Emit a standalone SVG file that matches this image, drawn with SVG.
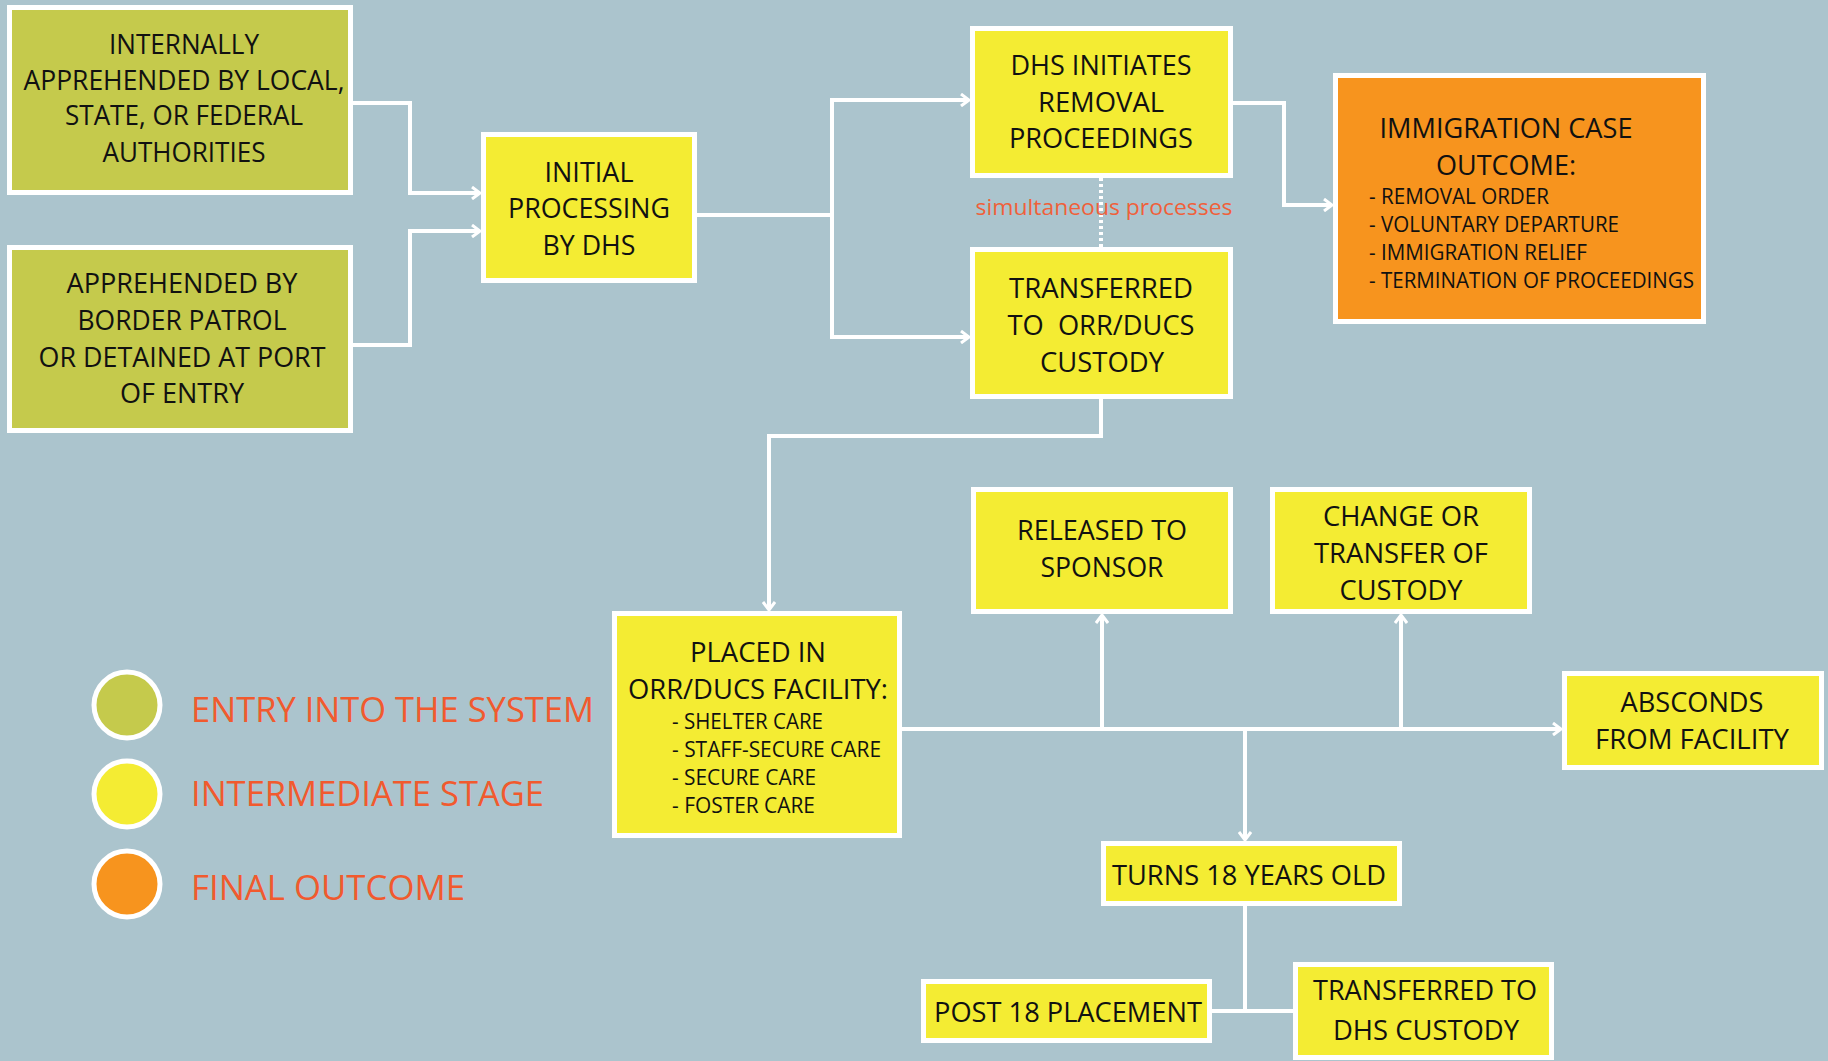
<svg xmlns="http://www.w3.org/2000/svg" width="1828" height="1061" viewBox="0 0 1828 1061">
<style>
.bg{fill:#ABC4CD}
.box{stroke:#FFFFFF;stroke-width:5}
.entry{fill:#C5CA4C}
.mid{fill:#F4EC33}
.final{fill:#F7941E}
.t{font-family:"Open Sans","Liberation Sans",sans-serif;font-size:28px;fill:#111111;text-anchor:middle}
.l{font-family:"Open Sans","Liberation Sans",sans-serif;font-size:21px;fill:#111111}
.leg{font-family:"Open Sans","Liberation Sans",sans-serif;font-size:35px;fill:#F15A2E}
.sim{font-family:"Open Sans","Liberation Sans",sans-serif;font-size:22px;fill:#F0603A;text-anchor:middle}
.c{fill:none;stroke:#FFFFFF;stroke-width:4}
</style>
<defs>
<marker id="arr" viewBox="0 0 12 14" markerWidth="12" markerHeight="14" refX="10" refY="7" orient="auto" markerUnits="userSpaceOnUse">
<path d="M2,1 L10,7 L2,13" fill="none" stroke="#FFFFFF" stroke-width="3"/>
</marker>
</defs>
<rect class="bg" x="0" y="0" width="1828" height="1061"/>

<g id="connectors">
<path class="c" d="M352,103 H410 V193 H480" marker-end="url(#arr)"/>
<path class="c" d="M352,345 H410 V231 H480" marker-end="url(#arr)"/>
<path class="c" d="M695,215 H832 V100 H969" marker-end="url(#arr)"/>
<path class="c" d="M832,215 V337 H969" marker-end="url(#arr)"/>
<path class="c" d="M1233,103 H1284 V205 H1332" marker-end="url(#arr)"/>
<path class="c" d="M1101,178 V247" stroke-dasharray="3,3"/>
<path class="c" d="M1101,399 V436 H769 V610" marker-end="url(#arr)"/>
<path class="c" d="M902,729 H1561" marker-end="url(#arr)"/>
<path class="c" d="M1102,729 V615" marker-end="url(#arr)"/>
<path class="c" d="M1401,729 V615" marker-end="url(#arr)"/>
<path class="c" d="M1245,729 V840" marker-end="url(#arr)"/>
<path class="c" d="M1245,906 V1011"/>
<path class="c" d="M1212,1011 H1293"/>
</g>

<g id="node-internal">
<rect class="box entry" x="9.5" y="7.5" width="341" height="185"/>
<text class="t" x="184" y="54" textLength="150" lengthAdjust="spacingAndGlyphs">INTERNALLY</text>
<text class="t" x="184" y="90" textLength="321" lengthAdjust="spacingAndGlyphs">APPREHENDED BY LOCAL,</text>
<text class="t" x="184" y="125" textLength="238" lengthAdjust="spacingAndGlyphs">STATE, OR FEDERAL</text>
<text class="t" x="184" y="162" textLength="163" lengthAdjust="spacingAndGlyphs">AUTHORITIES</text>
</g>

<g id="node-border">
<rect class="box entry" x="9.5" y="247.5" width="341" height="183"/>
<text class="t" x="182" y="293" textLength="231" lengthAdjust="spacingAndGlyphs">APPREHENDED BY</text>
<text class="t" x="182" y="330" textLength="209" lengthAdjust="spacingAndGlyphs">BORDER PATROL</text>
<text class="t" x="182" y="367" textLength="287" lengthAdjust="spacingAndGlyphs">OR DETAINED AT PORT</text>
<text class="t" x="182" y="403" textLength="124" lengthAdjust="spacingAndGlyphs">OF ENTRY</text>
</g>

<g id="node-initial">
<rect class="box mid" x="483.5" y="134.5" width="211" height="146"/>
<text class="t" x="589" y="182" textLength="89" lengthAdjust="spacingAndGlyphs">INITIAL</text>
<text class="t" x="589" y="218" textLength="162" lengthAdjust="spacingAndGlyphs">PROCESSING</text>
<text class="t" x="589" y="255" textLength="93" lengthAdjust="spacingAndGlyphs">BY DHS</text>
</g>

<g id="node-dhs">
<rect class="box mid" x="972.5" y="28.5" width="258" height="147"/>
<text class="t" x="1101" y="75" textLength="181" lengthAdjust="spacingAndGlyphs">DHS INITIATES</text>
<text class="t" x="1101" y="112" textLength="126" lengthAdjust="spacingAndGlyphs">REMOVAL</text>
<text class="t" x="1101" y="148" textLength="184" lengthAdjust="spacingAndGlyphs">PROCEEDINGS</text>
</g>

<text class="sim" x="1104" y="215" textLength="257" lengthAdjust="spacingAndGlyphs">simultaneous processes</text>

<g id="node-transferred">
<rect class="box mid" x="972.5" y="249.5" width="258" height="147"/>
<text class="t" x="1101" y="298" textLength="184" lengthAdjust="spacingAndGlyphs">TRANSFERRED</text>
<text class="t" x="1101" y="335" textLength="187" lengthAdjust="spacingAndGlyphs">TO&#160; ORR/DUCS</text>
<text class="t" x="1102" y="372" textLength="124" lengthAdjust="spacingAndGlyphs">CUSTODY</text>
</g>

<g id="node-outcome">
<rect class="box final" x="1335.5" y="75.5" width="368" height="246"/>
<text class="t" x="1506" y="138" textLength="253" lengthAdjust="spacingAndGlyphs">IMMIGRATION CASE</text>
<text class="t" x="1506" y="175" textLength="140" lengthAdjust="spacingAndGlyphs">OUTCOME:</text>
<text class="l" x="1369" y="204" textLength="180" lengthAdjust="spacingAndGlyphs">- REMOVAL ORDER</text>
<text class="l" x="1369" y="232" textLength="250" lengthAdjust="spacingAndGlyphs">- VOLUNTARY DEPARTURE</text>
<text class="l" x="1369" y="260" textLength="218" lengthAdjust="spacingAndGlyphs">- IMMIGRATION RELIEF</text>
<text class="l" x="1369" y="288" textLength="325" lengthAdjust="spacingAndGlyphs">- TERMINATION OF PROCEEDINGS</text>
</g>

<g id="node-placed">
<rect class="box mid" x="614.5" y="613.5" width="285" height="222"/>
<text class="t" x="758" y="662" textLength="136" lengthAdjust="spacingAndGlyphs">PLACED IN</text>
<text class="t" x="758" y="699" textLength="260" lengthAdjust="spacingAndGlyphs">ORR/DUCS FACILITY:</text>
<text class="l" x="672" y="729" textLength="151" lengthAdjust="spacingAndGlyphs">- SHELTER CARE</text>
<text class="l" x="672" y="757" textLength="209" lengthAdjust="spacingAndGlyphs">- STAFF-SECURE CARE</text>
<text class="l" x="672" y="785" textLength="144" lengthAdjust="spacingAndGlyphs">- SECURE CARE</text>
<text class="l" x="672" y="813" textLength="143" lengthAdjust="spacingAndGlyphs">- FOSTER CARE</text>
</g>

<g id="node-released">
<rect class="box mid" x="973.5" y="489.5" width="257" height="122"/>
<text class="t" x="1102" y="540" textLength="170" lengthAdjust="spacingAndGlyphs">RELEASED TO</text>
<text class="t" x="1102" y="577" textLength="123" lengthAdjust="spacingAndGlyphs">SPONSOR</text>
</g>

<g id="node-change">
<rect class="box mid" x="1272.5" y="489.5" width="257" height="122"/>
<text class="t" x="1401" y="526" textLength="156" lengthAdjust="spacingAndGlyphs">CHANGE OR</text>
<text class="t" x="1401" y="563" textLength="174" lengthAdjust="spacingAndGlyphs">TRANSFER OF</text>
<text class="t" x="1401" y="600" textLength="123" lengthAdjust="spacingAndGlyphs">CUSTODY</text>
</g>

<g id="node-absconds">
<rect class="box mid" x="1564.5" y="673.5" width="257" height="94"/>
<text class="t" x="1692" y="712" textLength="143" lengthAdjust="spacingAndGlyphs">ABSCONDS</text>
<text class="t" x="1692" y="749" textLength="194" lengthAdjust="spacingAndGlyphs">FROM FACILITY</text>
</g>

<g id="node-turns18">
<rect class="box mid" x="1103.5" y="843.5" width="296" height="60"/>
<text class="t" x="1249" y="885" textLength="274" lengthAdjust="spacingAndGlyphs">TURNS 18 YEARS OLD</text>
</g>

<g id="node-post18">
<rect class="box mid" x="923.5" y="981.5" width="286" height="59"/>
<text class="t" x="1068" y="1022" textLength="268" lengthAdjust="spacingAndGlyphs">POST 18 PLACEMENT</text>
</g>

<g id="node-dhs-custody">
<rect class="box mid" x="1295.5" y="964.5" width="256" height="93"/>
<text class="t" x="1425" y="1000" textLength="224" lengthAdjust="spacingAndGlyphs">TRANSFERRED TO</text>
<text class="t" x="1426" y="1040" textLength="186" lengthAdjust="spacingAndGlyphs">DHS CUSTODY</text>
</g>

<g id="legend">
<circle class="box entry" cx="127" cy="705" r="33"/>
<circle class="box mid" cx="127" cy="794" r="33"/>
<circle class="box final" cx="127" cy="884" r="33"/>
<text class="leg" x="191" y="722" textLength="403" lengthAdjust="spacingAndGlyphs">ENTRY INTO THE SYSTEM</text>
<text class="leg" x="191" y="806" textLength="353" lengthAdjust="spacingAndGlyphs">INTERMEDIATE STAGE</text>
<text class="leg" x="191" y="900" textLength="274" lengthAdjust="spacingAndGlyphs">FINAL OUTCOME</text>
</g>
</svg>
